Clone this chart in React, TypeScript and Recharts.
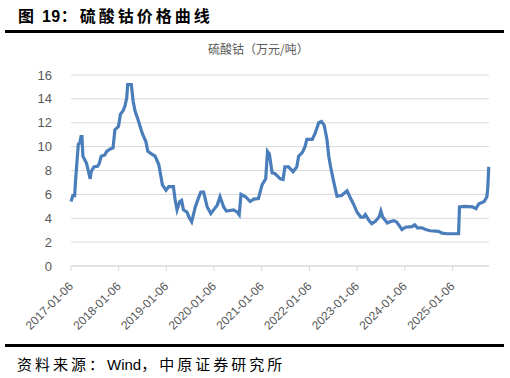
import { LineChart, Line, XAxis, YAxis, CartesianGrid } from 'recharts';

const dates = [
  '2017-01-06', '2017-01-20', '2017-02-03', '2017-02-10', '2017-03-03', '2017-03-14', '2017-03-24', '2017-03-31',
  '2017-04-07', '2017-04-21', '2017-05-05', '2017-06-02', '2017-06-09', '2017-06-30', '2017-07-28', '2017-08-11',
  '2017-08-25', '2017-09-22', '2017-10-06', '2017-11-03', '2017-11-24', '2017-12-08', '2018-01-05', '2018-01-19',
  '2018-02-09', '2018-02-23', '2018-03-09', '2018-03-16', '2018-04-13', '2018-04-27', '2018-05-11', '2018-06-08',
  '2018-07-06', '2018-08-03', '2018-08-17', '2018-09-14', '2018-10-12', '2018-11-09', '2018-12-07', '2019-01-04',
  '2019-01-25', '2019-03-01', '2019-03-15', '2019-03-29', '2019-04-19', '2019-05-03', '2019-05-17', '2019-06-14',
  '2019-06-28', '2019-07-19', '2019-08-16', '2019-09-06', '2019-09-27', '2019-10-18', '2019-11-15', '2019-12-13',
  '2020-01-03', '2020-01-31', '2020-02-21', '2020-03-20', '2020-04-10', '2020-06-05', '2020-07-03', '2020-07-17',
  '2020-07-31', '2020-09-04', '2020-10-09', '2020-11-06', '2020-12-11', '2021-01-08', '2021-02-05', '2021-02-19',
  '2021-03-05', '2021-03-26', '2021-04-16', '2021-05-28', '2021-06-18', '2021-07-02', '2021-07-30', '2021-09-03',
  '2021-10-01', '2021-10-15', '2021-11-12', '2021-12-03', '2021-12-17', '2022-01-28', '2022-02-18', '2022-03-18',
  '2022-04-08', '2022-04-29', '2022-05-20', '2022-06-03', '2022-06-17', '2022-07-08', '2022-07-22', '2022-08-05',
  '2022-09-09', '2022-10-21', '2022-11-11', '2022-12-09', '2023-01-06', '2023-02-03', '2023-02-24', '2023-03-10',
  '2023-04-07', '2023-04-28', '2023-05-26', '2023-06-23', '2023-07-07', '2023-07-21', '2023-08-25', '2023-09-15',
  '2023-10-13', '2023-11-03', '2023-11-24', '2023-12-15', '2024-01-12', '2024-03-01', '2024-03-22', '2024-04-12',
  '2024-05-17', '2024-06-14', '2024-07-19', '2024-09-20', '2024-10-18', '2024-11-22', '2025-02-21', '2025-02-28',
  '2025-04-11', '2025-06-06', '2025-07-04', '2025-07-25', '2025-09-05', '2025-09-26', '2025-10-03', '2025-10-10',
];

const prices = [
  5.4, 5.9, 5.9, 7.2, 10.2, 10.3, 10.85, 10.85,
  9.2, 8.9, 8.6, 7.3, 7.9, 8.3, 8.35, 8.6,
  9.2, 9.3, 9.6, 9.8, 9.9, 11.4, 11.7, 12.7,
  13.0, 13.4, 14.1, 15.2, 15.2, 13.8, 13.0, 12.1,
  11.1, 10.4, 9.6, 9.4, 9.2, 8.5, 6.8, 6.35,
  6.65, 6.65, 5.5, 4.7, 5.4, 5.5, 4.7, 4.5,
  4.1, 3.7, 4.95, 5.6, 6.2, 6.2, 4.95, 4.4,
  4.7, 5.1, 5.8, 4.95, 4.6, 4.7, 4.5, 4.3,
  6.0, 5.8, 5.4, 5.6, 5.65, 6.8, 7.3, 9.6,
  9.4, 7.8, 7.75, 7.3, 7.25, 8.3, 8.3, 7.9,
  8.3, 9.2, 9.5, 10.0, 10.6, 10.6, 11.1, 12.0,
  12.1, 11.8, 10.6, 9.2, 8.3, 7.2, 6.5, 5.85,
  5.9, 6.3, 5.8, 5.2, 4.5, 4.1, 4.1, 4.3,
  3.8, 3.55, 3.75, 4.1, 4.6, 4.1, 3.6, 3.7,
  3.8, 3.7, 3.4, 3.05, 3.25, 3.3, 3.45, 3.2,
  3.2, 3.05, 2.95, 2.9, 2.75, 2.7, 2.7, 4.95,
  5.0, 4.95, 4.8, 5.2, 5.4, 5.8, 6.6, 8.3,
];

const tickLabels = [
  '2017-01-06', '2018-01-06', '2019-01-06', '2020-01-06', '2021-01-06',
  '2022-01-06', '2023-01-06', '2024-01-06', '2025-01-06',
];

const yTicks = [0, 2, 4, 6, 8, 10, 12, 14, 16];

const data = dates.map((d, i) => ({ t: Date.parse(d), v: prices[i] }));
const xTicks = tickLabels.map((d) => Date.parse(d));

const FONT = '"Liberation Sans", "Noto Sans CJK SC", sans-serif';
const CJK = '"Noto Sans CJK SC", "Liberation Sans", sans-serif';

function DateTick(props: any) {
  const { x, y, payload } = props;
  const label = new Date(payload.value).toISOString().slice(0, 10);
  return (
    <g transform={`translate(${x},${y + 11})`}>
      <text x={0} y={0} dy="0.35em" textAnchor="end" transform="rotate(-45)" fill="#595959" fontSize={12} fontFamily={FONT}>
        {label}
      </text>
    </g>
  );
}

export default function App() {
  return (
    <div style={{ position: 'fixed', left: 0, top: 0, width: 510, height: 378, background: '#fff', overflow: 'hidden' }}>
      <div style={{ position: 'absolute', left: 18, top: 3, fontSize: 16, fontWeight: 'bold', letterSpacing: 3, fontFamily: CJK, color: '#000', whiteSpace: 'nowrap' }}>
        图<span style={{ fontFamily: FONT, letterSpacing: 0.5 }}> 19</span>：硫酸钴价格曲线
      </div>
      <div style={{ position: 'absolute', left: 5, top: 30, width: 499, height: 3, background: '#000' }} />
      <div style={{ position: 'absolute', left: 208, top: 40, fontSize: 12, fontFamily: CJK, color: '#595959', whiteSpace: 'nowrap' }}>
        硫酸钴（万元/吨）
      </div>
      <div style={{ position: 'absolute', left: 0, top: 0 }}>
        <LineChart width={510} height={378} data={data} margin={{ top: 75, right: 21, bottom: 52, left: 0 }}>
          <CartesianGrid vertical={false} stroke="#d9d9d9" />
          <XAxis
            dataKey="t"
            type="number"
            domain={[Date.parse('2017-01-06'), Date.parse('2025-10-12')]}
            ticks={xTicks}
            tick={<DateTick />}
            height={60}
            stroke="#d9d9d9"
            tickSize={5}
            interval={0}
          />
          <YAxis
            domain={[0, 16]}
            ticks={yTicks}
            width={71}
            axisLine={false}
            tickLine={false}
            tickMargin={13}
            tick={{ fill: '#595959', fontSize: 13, fontFamily: FONT }}
          />
          <Line type="linear" dataKey="v" stroke="#4a7ebb" strokeWidth={3.2} dot={false} isAnimationActive={false} />
        </LineChart>
      </div>
      <div style={{ position: 'absolute', left: 5, top: 344, width: 499, height: 3, background: '#000' }} />
      <div style={{ position: 'absolute', left: 17, top: 353, fontSize: 15, letterSpacing: 3, fontFamily: CJK, color: '#000', whiteSpace: 'nowrap' }}>
        资料来源：<span style={{ fontFamily: FONT, letterSpacing: 0 }}>Wind</span>，中原证券研究所
      </div>
    </div>
  );
}
